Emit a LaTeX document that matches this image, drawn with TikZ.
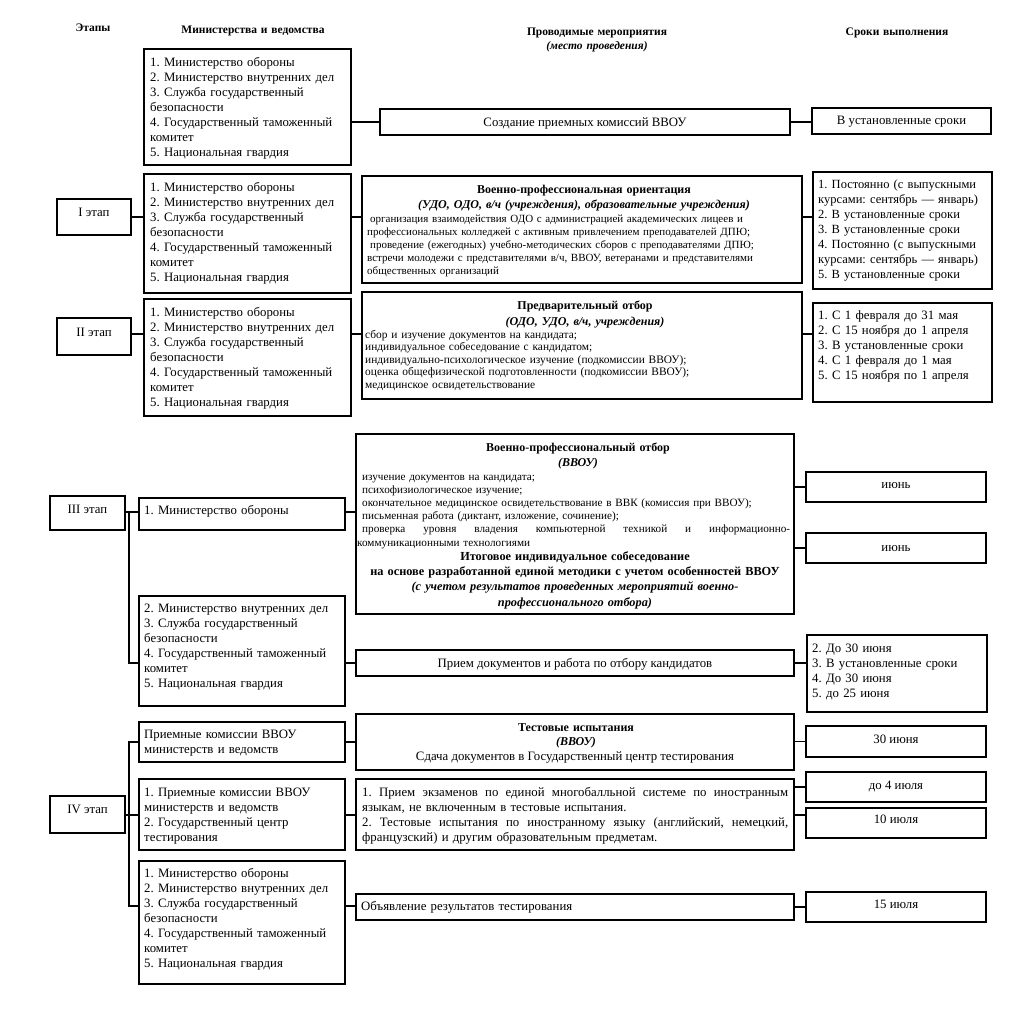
\documentclass[tikz,border=0pt]{standalone}
\usepackage{fontspec}
\setmainfont{Liberation Serif}
\frenchspacing
\newcommand{\fA}{\frenchspacing\fontsize{12.8}{15}\selectfont}
\newcommand{\fS}{\frenchspacing\fontsize{11}{13.2}\selectfont}
\newcommand{\fH}{\frenchspacing\bfseries\fontsize{11.5}{15}\selectfont}
\newcommand{\fB}{\frenchspacing\bfseries\fontsize{12}{15}\selectfont}
\newcommand{\jline}[2]{\makebox[#1][s]{\spaceskip=.25em plus 1fil\relax #2}}
\newcommand{\bx}[5]{\node[box, minimum width={#4-#2}, minimum height={#5-#3}] (#1) at ({(#2+#4)/2},{(#3+#5)/2}) {};}
\begin{document}
\begin{tikzpicture}[x=1pt,y=-1pt,
  box/.style={draw, line width=1.3pt, inner sep=0pt, fill=none},
  conn/.style={line width=1.1pt},
  ltxt/.style={anchor=base west, inner sep=0pt, align=left, text width=#1, font=\fA},
  stxt/.style={anchor=base west, inner sep=0pt, align=left, text width=#1, font=\fS},
  ctxt/.style={anchor=base, inner sep=0pt, font=\fA},
  htxt/.style={anchor=base, inner sep=0pt, font=\fH, align=center, text width=300pt},
  btxt/.style={anchor=base, inner sep=0pt, font=\fB, align=center, text width=436pt}]
\useasboundingbox[fill=white] (0,0) rectangle (1036,1023);

% headers
\node[htxt] (h1) at (93,31) {Этапы};
\node[htxt] (h2) at (253,33) {Министерства и ведомства};
\node[htxt] (h3) at (597,35) {Проводимые мероприятия\\[-0.5pt]\textit{(место проведения)}};
\node[htxt] (h4) at (897,35) {Сроки выполнения};

% ---------- row 0
\bx{m1}{144}{49}{351}{165}
\node[ltxt=200pt] (m1t) at (150,66) {1. Министерство обороны\\2. Министерство внутренних дел\\3. Служба государственный\\безопасности\\4. Государственный таможенный\\комитет\\5. Национальная гвардия};
\bx{c1}{380}{109}{790}{135}
\node[ctxt] (c1t) at (585,126) {Создание приемных комиссий ВВОУ};
\bx{t1}{812}{108}{991}{134}
\node[ctxt] (t1t) at (901.5,124) {В установленные сроки};
\draw[conn] (m1.east |- c1.west) -- (c1.west);
\draw[conn] (c1.east) -- (t1.west |- c1.east);

% ---------- row I
\bx{s1}{57}{199}{131}{235}
\node[ctxt] (s1t) at (94,216) {I этап};
\bx{m2}{144}{174}{351}{293}
\node[ltxt=200pt] (m2t) at (150,191) {1. Министерство обороны\\2. Министерство внутренних дел\\3. Служба государственный\\безопасности\\4. Государственный таможенный\\комитет\\5. Национальная гвардия};
\bx{o}{362}{176}{802}{283}
\node[btxt] (ot1) at (584,193) {Военно-профессиональная ориентация\\[0pt]\textit{(УДО, ОДО, в/ч (учреждения), образовательные учреждения)}};
\node[stxt=432pt] (ot2) at (367,222) {\hspace{3pt}организация взаимодействия ОДО с администрацией академических лицеев и\\профессиональных колледжей с активным привлечением преподавателей ДПЮ;\\\hspace{3pt}проведение (ежегодных) учебно-методических сборов с преподавателями ДПЮ;\\встречи молодежи с представителями в/ч, ВВОУ, ветеранами и представителями\\общественных организаций};
\bx{t2}{813}{172}{992}{289}
\node[ltxt=176pt, font=\frenchspacing\fontsize{12.5}{15}\selectfont] (t2t) at (818,188) {1. Постоянно (с выпускными\\курсами: сентябрь — январь)\\2. В установленные сроки\\3. В установленные сроки\\4. Постоянно (с выпускными\\курсами: сентябрь — январь)\\5. В установленные сроки};
\coordinate (y1) at (0,217);
\draw[conn] (s1.east |- y1) -- (m2.west |- y1);
\draw[conn] (m2.east |- y1) -- (o.west |- y1);
\draw[conn] (o.east |- y1) -- (t2.west |- y1);

% ---------- row II
\bx{s2}{57}{318}{131}{355}
\node[ctxt] (s2t) at (94,336) {II этап};
\bx{m3}{144}{299}{351}{416}
\node[ltxt=200pt] (m3t) at (150,316) {1. Министерство обороны\\2. Министерство внутренних дел\\3. Служба государственный\\безопасности\\4. Государственный таможенный\\комитет\\5. Национальная гвардия};
\bx{p}{362}{292}{802}{399}
\node[btxt] (pt1) at (585,309) {Предварительный отбор\\[1pt]\textit{(ОДО, УДО, в/ч, учреждения)}};
\node[stxt=432pt, font=\frenchspacing\fontsize{11.4}{12.6}\selectfont] (pt2) at (365,338) {сбор и изучение документов на кандидата;\\индивидуальное собеседование с кандидатом;\\индивидуально-психологическое изучение (подкомиссии ВВОУ);\\оценка общефизической подготовленности (подкомиссии ВВОУ);\\медицинское освидетельствование};
\bx{t3}{813}{303}{992}{402}
\node[ltxt=176pt] (t3t) at (818,319) {1. С 1 февраля до 31 мая\\2. С 15 ноября до 1 апреля\\3. В установленные сроки\\4. С 1 февраля до 1 мая\\5. С 15 ноября по 1 апреля};
\coordinate (y2) at (0,334);
\draw[conn] (s2.east |- y2) -- (m3.west |- y2);
\draw[conn] (m3.east |- y2) -- (p.west |- y2);
\draw[conn] (p.east |- y2) -- (t3.west |- y2);

% ---------- row III
\bx{s3}{50}{496}{125}{530}
\node[ctxt] (s3t) at (87.5,513) {III этап};
\bx{m4}{139}{498}{345}{530}
\node[ltxt=200pt] (m4t) at (144,514) {1. Министерство обороны};
\bx{m5}{139}{596}{345}{706}
\node[ltxt=200pt] (m5t) at (144,612) {2. Министерство внутренних дел\\3. Служба государственный\\безопасности\\4. Государственный таможенный\\комитет\\5. Национальная гвардия};
\bx{v}{356}{434}{794}{614}
\node[btxt] (vt1) at (578,451) {Военно-профессиональный отбор\\[0pt]\textit{(ВВОУ)}};
\node[stxt=433pt, font=\frenchspacing\fontsize{11.2}{13.2}\selectfont] (vt2) at (357,480) {\hspace{5pt}изучение документов на кандидата;\\\hspace{5pt}психофизиологическое изучение;\\\hspace{5pt}окончательное медицинское освидетельствование в ВВК (комиссия при ВВОУ);\\\hspace{5pt}письменная работа (диктант, изложение, сочинение);\\\jline{433pt}{\hspace{5pt}проверка уровня владения компьютерной техникой и информационно-}\\коммуникационными технологиями};
\node[btxt, text width=436pt, font=\frenchspacing\bfseries\fontsize{12.3}{15.4}\selectfont] (vt3) at (575,560) {Итоговое индивидуальное собеседование\\на основе разработанной единой методики с учетом особенностей ВВОУ\\\textit{(с учетом результатов проведенных мероприятий военно-}\\\textit{профессионального отбора)}};
\bx{r}{356}{650}{794}{676}
\node[ctxt] (rt) at (575,667) {Прием документов и работа по отбору кандидатов};
\bx{tj1}{806}{472}{986}{502}
\node[ctxt] (tj1t) at (896,488) {июнь};
\bx{tj2}{806}{533}{986}{563}
\node[ctxt] (tj2t) at (896,551) {июнь};
\bx{t4}{807}{635}{987}{712}
\node[ltxt=172pt] (t4t) at (812,652) {2. До 30 июня\\3. В установленные сроки\\4. До 30 июня\\5. до 25 июня};
\coordinate (tr3a) at (129,512);
\coordinate (tr3b) at (129,663);
\draw[conn] (s3.east |- tr3a) -- (tr3a) -- (tr3b) -- (m5.west |- tr3b);
\draw[conn] (tr3a) -- (m4.west |- tr3a);
\draw[conn] (m4.east |- tr3a) -- (v.west |- tr3a);
\draw[conn] (v.east |- tj1.west) -- (tj1.west);
\draw[conn] (v.east |- tj2.west) -- (tj2.west);
\draw[conn] (m5.east |- r.west) -- (r.west);
\draw[conn] (r.east) -- (t4.west |- r.east);

% ---------- row IV
\bx{s4}{50}{796}{125}{833}
\node[ctxt] (s4t) at (87.5,813) {IV этап};
\bx{m6}{139}{722}{345}{762}
\node[ltxt=200pt] (m6t) at (144,738) {Приемные комиссии ВВОУ\\министерств и ведомств};
\bx{m7}{139}{779}{345}{850}
\node[ltxt=200pt] (m7t) at (144,796) {1. Приемные комиссии ВВОУ\\министерств и ведомств\\2. Государственный центр\\тестирования};
\bx{m8}{139}{861}{345}{984}
\node[ltxt=200pt] (m8t) at (144,877) {1. Министерство обороны\\2. Министерство внутренних дел\\3. Служба государственный\\безопасности\\4. Государственный таможенный\\комитет\\5. Национальная гвардия};
\bx{test}{356}{714}{794}{770}
\node[btxt] (testt1) at (576,731) {Тестовые испытания\\[-0.5pt]\textit{(ВВОУ)}};
\node[ctxt] (testt2) at (575,760) {Сдача документов в Государственный центр тестирования};
\bx{ex}{356}{779}{794}{850}
\node[ltxt=426pt] (ext) at (362,796) {\jline{426pt}{1. Прием экзаменов по единой многобалльной системе по иностранным}\\языкам, не включенным в тестовые испытания.\\\jline{426pt}{2. Тестовые испытания по иностранному языку (английский, немецкий,}\\французский) и другим образовательным предметам.};
\bx{res}{356}{894}{794}{920}
\node[ltxt=420pt] (rest) at (361,910) {Объявление результатов тестирования};
\bx{t30}{806}{726}{986}{757}
\node[ctxt] (t30t) at (896,743) {30 июня};
\bx{t4j}{806}{772}{986}{802}
\node[ctxt] (t4jt) at (896,789) {до 4 июля};
\bx{t10j}{806}{808}{986}{838}
\node[ctxt] (t10jt) at (896,823) {10 июля};
\bx{t15j}{806}{892}{986}{922}
\node[ctxt] (t15jt) at (896,908) {15 июля};
\coordinate (tr4a) at (129,742);
\coordinate (tr4b) at (129,906);
\coordinate (tr4c) at (129,815);
\draw[conn] (m6.west |- tr4a) -- (tr4a) -- (tr4b) -- (m8.west |- tr4b);
\draw[conn] (s4.east |- tr4c) -- (m7.west |- tr4c);
\draw[conn] (m6.east |- tr4a) -- (test.west |- tr4a);
\draw[conn] (test.east |- t30.west) -- (t30.west);
\draw[conn] (m7.east |- tr4c) -- (ex.west |- tr4c);
\draw[conn] (ex.east |- t4j.west) -- (t4j.west);
\draw[conn] (ex.east |- tr4c) -- (t10j.west |- tr4c);
\draw[conn] (m8.east |- tr4b) -- (res.west |- tr4b);
\draw[conn] (res.east |- t15j.west) -- (t15j.west);
\end{tikzpicture}
\end{document}
